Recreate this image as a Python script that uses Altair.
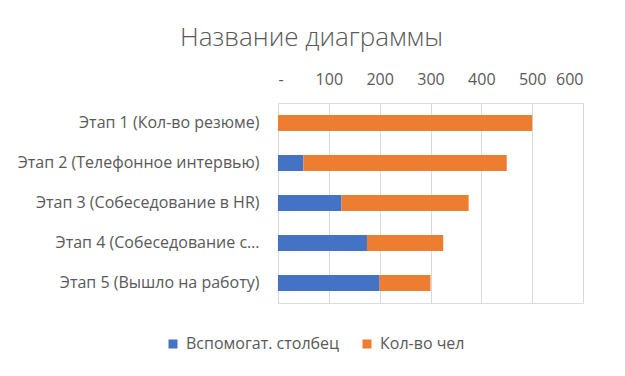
import altair as alt
import pandas as pd

stages = [
    "Этап 1 (Кол-во резюме)",
    "Этап 2 (Телефонное интервью)",
    "Этап 3 (Собеседование в HR)",
    "Этап 4 (Собеседование с…",
    "Этап 5 (Вышло на работу)",
]
helper = [0, 50, 125, 175, 200]
people = [500, 400, 250, 150, 100]
series_names = ["Вспомогат. столбец", "Кол-во чел"]
colors = ["#4472C4", "#ED7D31"]
x_ticks = [0, 100, 200, 300, 400, 500, 600]
title_text = "Название диаграммы"

rows = []
for s, h, p in zip(stages, helper, people):
    rows.append({"stage": s, "series": series_names[0], "value": h, "ord": 0})
    rows.append({"stage": s, "series": series_names[1], "value": p, "ord": 1})
df = pd.DataFrame(rows)

FONT = "Open Sans"
TXT = "#595959"

chart = (
    alt.Chart(df)
    .mark_bar(size=16)
    .encode(
        y=alt.Y(
            "stage:N",
            sort=stages,
            title=None,
            scale=alt.Scale(paddingInner=0, paddingOuter=0),
            axis=alt.Axis(
                labelPadding=19,
                labelFontSize=16,
                labelColor=TXT,
                labelFont=FONT,
                ticks=False,
                domain=False,
                labelLimit=0,
            ),
        ),
        x=alt.X(
            "value:Q",
            stack="zero",
            scale=alt.Scale(domain=[0, 600], nice=False),
            title=None,
            axis=alt.Axis(
                orient="top",
                values=x_ticks,
                labelExpr="datum.value == 0 ? '-' : datum.label",
                grid=True,
                gridColor="#D9D9D9",
                gridWidth=1,
                ticks=False,
                domain=False,
                labelPadding=16,
                labelFontSize=16,
                labelColor=TXT,
                labelFont=FONT,
            ),
        ),
        color=alt.Color(
            "series:N",
            scale=alt.Scale(domain=series_names, range=colors),
            legend=alt.Legend(
                title=None,
                orient="none",
                direction="horizontal",
                legendX=-113,
                legendY=233,
                symbolType="square",
                symbolSize=81,
                symbolStrokeWidth=0,
                labelFontSize=16,
                labelFont=FONT,
                labelColor=TXT,
                columnPadding=19,
                labelOffset=5,
            ),
        ),
        order=alt.Order("ord:Q"),
    )
    .properties(
        width=305,
        height=200,
        title=alt.TitleParams(
            title_text,
            anchor="middle",
            dx=-119,
            offset=20,
            fontSize=26,
            font=FONT,
            fontWeight=300,
            color=TXT,
        ),
        autosize=alt.AutoSizeParams(type="none"),
        padding={"left": 270, "top": 95, "right": 34, "bottom": 65},
    )
    .configure_view(stroke=None)
    .configure(background="white")
)

chart.save("out.html", embed_options={"renderer": "svg", "actions": False})
